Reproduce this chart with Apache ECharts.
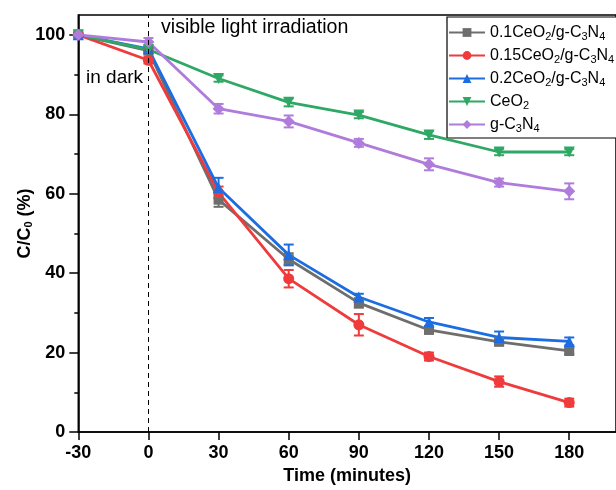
<!DOCTYPE html>
<html><head><meta charset="utf-8">
<script src="https://cdn.jsdelivr.net/npm/echarts@6/dist/echarts.min.js"></script>
<style>html,body{margin:0;padding:0;background:#fff}#c{width:616px;height:490px}</style>
</head><body><div id="c"></div>
<script>
var times = [-30, 0, 30, 60, 90, 120, 150, 180];
var xTicks = [-30, 0, 30, 60, 90, 120, 150, 180];
var yTicks = [0, 20, 40, 60, 80, 100];
var yMinorTicks = [10, 30, 50, 70, 90];
var names = ['0.1CeO2/g-C3N4', '0.15CeO2/g-C3N4', '0.2CeO2/g-C3N4', 'CeO2', 'g-C3N4'];
var richNames = ['0.1CeO{s|2}/g-C{s|3}N{s|4}', '0.15CeO{s|2}/g-C{s|3}N{s|4}', '0.2CeO{s|2}/g-C{s|3}N{s|4}', 'CeO{s|2}', 'g-C{s|3}N{s|4}'];
var s01 = [100, 96, 58.5, 43.5, 32.5, 25.7, 22.7, 20.4];
var s015 = [100, 93.6, 60.3, 38.6, 27, 19, 12.7, 7.4];
var s02 = [100, 96.5, 61.5, 44.6, 34, 27.7, 23.8, 22.8];
var sCeO2 = [100, 96.3, 89, 83, 79.8, 74.8, 70.5, 70.5];
var sCN = [100, 98.2, 81.4, 78.2, 72.8, 67.4, 62.8, 60.6];
var e01 = [0.3, 0.5, 1.8, 1.5, 1.2, 0.8, 0.8, 0.8];
var e015 = [0.3, 0.8, 1.5, 2.2, 2.7, 1, 1.3, 1];
var e02 = [0.3, 0.5, 2.5, 2.6, 0.8, 1, 1.5, 1];
var eCeO2 = [0.3, 0.5, 0.8, 1, 0.8, 1, 0.8, 0.8];
var eCN = [0.3, 1, 1.2, 1.5, 1, 1.5, 1, 2];
var colors = ['#6e6e6e', '#ef3b3b', '#1c6de2', '#2fa866', '#b07cdc'];
var symbols = ['rect', 'circle', 'triangle', 'triangle', 'diamond'];
var symRot = [0, 0, 0, 180, 0];
var symSizes = [10, 11, 11, 11, 12];
var allVals = [s01, s015, s02, sCeO2, sCN];
var allErr = [e01, e015, e02, eCeO2, eCN];
var FONT = 'Liberation Sans, Arial, sans-serif';

var series = [];
for (var i = 0; i < 5; i++) {
  var ld = times.map(function (t, k) { return [t, allVals[i][k]]; });
  var ed = times.map(function (t, k) { return [t, allVals[i][k] - allErr[i][k], allVals[i][k] + allErr[i][k]]; });
  (function (col) {
    series.push({
      type: 'custom', name: 'err' + i, data: ed, encode: { x: 0, y: [1, 2] }, z: 3,
      renderItem: function (params, api) {
        var x = api.value(0), lo = api.value(1), hi = api.value(2);
        var p1 = api.coord([x, lo]), p2 = api.coord([x, hi]);
        var st = { stroke: col, lineWidth: 2 };
        return { type: 'group', children: [
          { type: 'line', shape: { x1: p1[0], y1: p1[1], x2: p2[0], y2: p2[1] }, style: st },
          { type: 'line', shape: { x1: p1[0] - 5, y1: p1[1], x2: p1[0] + 5, y2: p1[1] }, style: st },
          { type: 'line', shape: { x1: p2[0] - 5, y1: p2[1], x2: p2[0] + 5, y2: p2[1] }, style: st }
        ]};
      }
    });
  })(colors[i]);
  var s = {
    type: 'line', name: names[i], data: ld, z: 4,
    symbol: symbols[i], symbolSize: symSizes[i], symbolRotate: symRot[i],
    lineStyle: { color: colors[i], width: 2.8 },
    itemStyle: { color: colors[i] },
    emphasis: { disabled: true }, animation: false
  };
  if (i === 0) {
    s.markLine = { silent: true, symbol: ['none', 'none'], label: { show: false },
      lineStyle: { color: '#000', type: [5, 4], width: 1 }, data: [{ xAxis: 0 }], animation: false };
  }
  series.push(s);
}

var chart = echarts.init(document.getElementById('c'), null, { renderer: 'canvas' });
chart.setOption({
  animation: false,
  textStyle: { fontFamily: FONT },
  color: colors,
  grid: { left: 78.3, top: 15, right: -2.7, bottom: 55, show: true, borderColor: '#000', borderWidth: 1.5, containLabel: false },
  legend: {
    data: names, orient: 'vertical', left: 447, top: 17, align: 'left',
    padding: [6, 60, 4, 1], itemGap: 4, itemWidth: 36, itemHeight: 11,
    borderColor: '#000', borderWidth: 1.2, backgroundColor: '#fff',
    formatter: function (n) { return richNames[names.indexOf(n)]; },
    textStyle: { fontFamily: FONT, fontSize: 16, color: '#000', lineHeight: 18,
      rich: { s: { fontSize: 11, fontFamily: FONT, padding: [8, 0, 0, 0], lineHeight: 10 } } }
  },
  xAxis: {
    type: 'value', min: -30, max: 200, interval: 30,
    name: 'Time (minutes)', nameLocation: 'middle', nameGap: 35, nameMoveOverlap: false,
    nameTextStyle: { fontFamily: FONT, fontSize: 18, fontWeight: 'bold', color: '#000' },
    axisLine: { show: true, onZero: false, lineStyle: { color: '#000', width: 1.6 } },
    axisTick: { show: true, inside: false, length: 8, lineStyle: { color: '#000', width: 1.5 }, customValues: xTicks },
    axisLabel: { fontFamily: FONT, fontSize: 18, fontWeight: 'bold', color: '#000', margin: 12, customValues: xTicks },
    splitLine: { show: false }
  },
  yAxis: [{
    type: 'value', min: 0, max: 105, interval: 20,
    name: 'C/C{s|0} (%)', nameLocation: 'middle', nameGap: 44, nameRotate: 90, nameMoveOverlap: false,
    nameTextStyle: { fontFamily: FONT, fontSize: 18, fontWeight: 'bold', color: '#000',
      rich: { s: { fontSize: 11, fontWeight: 'bold', fontFamily: FONT, padding: [8, 0, 0, 0], lineHeight: 12 } } },
    axisLine: { show: true, onZero: false, lineStyle: { color: '#000', width: 1.6 } },
    axisTick: { show: true, inside: false, length: 9, lineStyle: { color: '#000', width: 1.5 }, customValues: yTicks },
    axisLabel: { fontFamily: FONT, fontSize: 18, fontWeight: 'bold', color: '#000', margin: 13, customValues: yTicks },
    splitLine: { show: false }
  }, {
    type: 'value', min: 0, max: 105, position: 'left', offset: 0,
    axisLine: { show: false, onZero: false },
    axisTick: { show: true, inside: false, length: 4, lineStyle: { color: '#000', width: 1.5 }, customValues: yMinorTicks },
    axisLabel: { show: false }, splitLine: { show: false }
  }],
  graphic: [
    { type: 'text', left: 161, top: 18, style: { text: 'visible light irradiation', font: '19.6px ' + FONT, fill: '#000' } },
    { type: 'text', left: 86, top: 68, style: { text: 'in dark', font: '19px ' + FONT, fill: '#000' } }
  ],
  series: series
});
</script></body></html>
